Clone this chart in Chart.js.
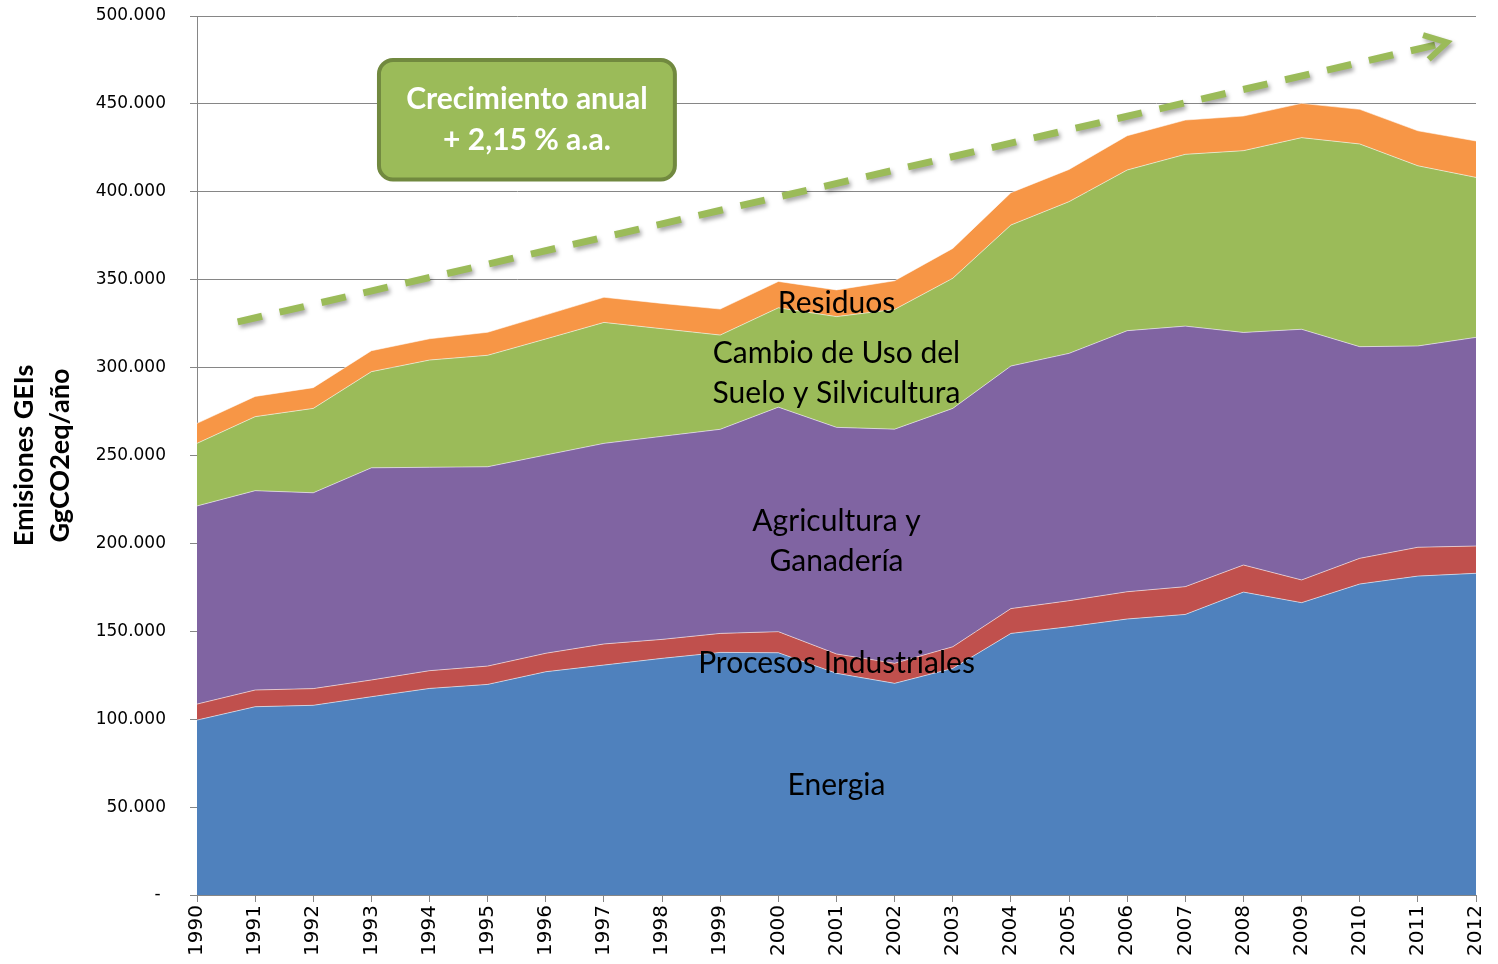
<!DOCTYPE html>
<html>
<head>
<meta charset="utf-8">
<title>Emisiones GEIs</title>
<script src="https://cdn.jsdelivr.net/npm/chart.js@4.4.1/dist/chart.umd.min.js"></script>
<style>
  html, body { margin: 0; padding: 0; background: #fff; }
  #chart { display: block; }
</style>
</head>
<body>
<canvas id="chart" width="1498" height="964"></canvas>
<script>
// data (GgCO2eq/año)
const years = ['1990', '1991', '1992', '1993', '1994', '1995', '1996', '1997', '1998', '1999', '2000',
  '2001', '2002', '2003', '2004', '2005', '2006', '2007', '2008', '2009', '2010', '2011', '2012'];

const energia = [99500, 107100, 107900, 112800, 117500, 119800, 127000, 130800, 134600, 138000, 137800,
  126100, 120400, 128900, 148800, 152600, 157000, 159600, 172300, 166300, 176900, 181400, 183000];
const procesos = [9100, 9500, 9500, 9500, 10100, 10400, 10500, 12000, 10800, 10800, 12000,
  11000, 11400, 12300, 14100, 14800, 15500, 15800, 15400, 12900, 14600, 16400, 15500];
const agricultura = [112700, 113400, 111400, 120700, 115700, 113400, 112800, 114100, 115500, 116100, 127700,
  128900, 133200, 135600, 138000, 140700, 148500, 148200, 132300, 142600, 120400, 114500, 118700];
const cambioUso = [35600, 42100, 48000, 54700, 61000, 63400, 66000, 68800, 61200, 53600, 56500,
  63000, 68100, 74000, 80200, 86300, 91400, 97700, 103400, 109000, 115300, 102500, 91000];
const residuos = [11400, 11500, 11800, 11900, 12100, 13100, 13700, 14300, 14400, 14800, 15000,
  15200, 16300, 17000, 18400, 18300, 19500, 19500, 19700, 19500, 19700, 19900, 20700];

const yTicks = [0, 50000, 100000, 150000, 200000, 250000, 300000, 350000, 400000, 450000, 500000];

// area labels: [text lines, x index, y value]
const areaLabels = [
  [['Residuos'], 11, 336500],
  [['Cambio de Uso del', 'Suelo y Silvicultura'], 11, 297000],
  [['Agricultura y', 'Ganadería'], 11, 201000],
  [['Procesos Industriales'], 11, 131500],
  [['Energia'], 11, 62500]
];

const growthText = ['Crecimiento anual', '+ 2,15 % a.a.'];

const colors = {
  energia: '#4F81BD',
  procesos: '#C0504D',
  agricultura: '#8064A2',
  cambio: '#9BBB59',
  residuos: '#F79646'
};

function fmt(v) {
  if (v === 0) return '- ';
  return String(v).replace(/\B(?=(\d{3})+(?!\d))/g, '.');
}

function area(label, data, color, fill) {
  return {
    label: label,
    data: data,
    backgroundColor: color,
    borderColor: 'rgba(255,255,255,0.55)',
    borderWidth: 1,
    pointRadius: 0,
    tension: 0,
    fill: fill
  };
}

// text, box and trend arrow on top of the areas
const overlay = {
  id: 'overlay',
  afterDraw(chart) {
    const ctx = chart.ctx;
    const xs = chart.scales.x;
    const ys = chart.scales.y;
    ctx.save();

    // labels inside the areas
    ctx.fillStyle = '#000';
    ctx.font = '30px Lato';
    ctx.textAlign = 'center';
    ctx.textBaseline = 'middle';
    areaLabels.forEach(([lines, xi, yv]) => {
      const cx = xs.getPixelForValue(xi);
      const cy = ys.getPixelForValue(yv);
      const lh = 40;
      lines.forEach((t, i) => {
        ctx.fillText(t, cx, cy + (i - (lines.length - 1) / 2) * lh);
      });
    });

    // dashed trend arrow
    const x0 = xs.getPixelForValue(0.7), y0 = ys.getPixelForValue(326000);
    const x1 = xs.getPixelForValue(21.5), y1 = ys.getPixelForValue(485000);
    const ang = Math.atan2(y1 - y0, x1 - x0);
    ctx.shadowColor = 'rgba(0,0,0,0.35)';
    ctx.shadowBlur = 4;
    ctx.shadowOffsetX = 2;
    ctx.shadowOffsetY = 3;
    ctx.strokeStyle = '#9BBB59';
    ctx.lineWidth = 7;
    ctx.setLineDash([25, 18]);
    ctx.beginPath();
    ctx.moveTo(x0, y0);
    ctx.lineTo(x1 - 8 * Math.cos(ang), y1 - 8 * Math.sin(ang));
    ctx.stroke();
    ctx.setLineDash([]);
    ctx.lineWidth = 6;
    ctx.lineJoin = 'miter';
    const L = 25, a = Math.PI / 6;
    ctx.beginPath();
    ctx.moveTo(x1 - L * Math.cos(ang - a), y1 - L * Math.sin(ang - a));
    ctx.lineTo(x1, y1);
    ctx.lineTo(x1 - L * Math.cos(ang + a), y1 - L * Math.sin(ang + a));
    ctx.stroke();
    ctx.shadowColor = 'transparent';

    // growth box
    const bx0 = xs.getPixelForValue(3.13), bx1 = xs.getPixelForValue(8.22);
    const by0 = ys.getPixelForValue(475000), by1 = ys.getPixelForValue(407000);
    ctx.beginPath();
    ctx.roundRect(bx0, by0, bx1 - bx0, by1 - by0, 14);
    ctx.fillStyle = '#9BBB59';
    ctx.fill();
    ctx.lineWidth = 4;
    ctx.strokeStyle = '#71893F';
    ctx.stroke();
    ctx.fillStyle = '#fff';
    ctx.font = 'bold 30px Lato';
    const bcx = (bx0 + bx1) / 2, bcy = (by0 + by1) / 2;
    ctx.fillText(growthText[0], bcx, bcy - 20);
    ctx.fillText(growthText[1], bcx, bcy + 21);

    ctx.restore();
  }
};

new Chart(document.getElementById('chart'), {
  type: 'line',
  data: {
    labels: years,
    datasets: [
      area('Energia', energia, colors.energia, 'origin'),
      area('Procesos Industriales', procesos, colors.procesos, '-1'),
      area('Agricultura y Ganadería', agricultura, colors.agricultura, '-1'),
      area('Cambio de Uso del Suelo y Silvicultura', cambioUso, colors.cambio, '-1'),
      area('Residuos', residuos, colors.residuos, '-1')
    ]
  },
  options: {
    responsive: false,
    animation: false,
    layout: { padding: { left: 0, top: 16, right: 22, bottom: 0 } },
    plugins: {
      legend: { display: false },
      tooltip: { enabled: false }
    },
    scales: {
      x: {
        offset: false,
        grid: {
          drawOnChartArea: false,
          drawTicks: true,
          tickLength: 7,
          color: '#868686'
        },
        border: { color: '#868686' },
        ticks: {
          autoSkip: false,
          minRotation: 90,
          maxRotation: 90,
          padding: 3,
          color: '#000',
          font: { family: 'DejaVu Sans', size: 20 }
        },
        afterFit(scale) {
          scale.height = 69;
          scale.paddingLeft = 0;
          scale.paddingRight = 0;
        }
      },
      y: {
        stacked: true,
        min: 0,
        max: 500000,
        afterBuildTicks(scale) { scale.ticks = yTicks.map(v => ({ value: v })); },
        grid: {
          color: '#868686',
          tickLength: 7,
          drawTicks: true
        },
        border: { color: '#868686' },
        ticks: {
          padding: 24,
          color: '#000',
          font: { family: 'DejaVu Sans', size: 17 },
          callback: v => fmt(v)
        },
        title: {
          display: true,
          text: ['Emisiones GEIs', 'GgCO2eq/año'],
          color: '#000',
          font: { family: 'Lato', size: 27, weight: 'bold', lineHeight: 1.33 },
          padding: { top: 6, bottom: 0 }
        },
        afterFit(scale) {
          scale.width = 197;
          scale.paddingTop = 0;
          scale.paddingBottom = 0;
        }
      }
    }
  },
  plugins: [overlay]
});
</script>
</body>
</html>
